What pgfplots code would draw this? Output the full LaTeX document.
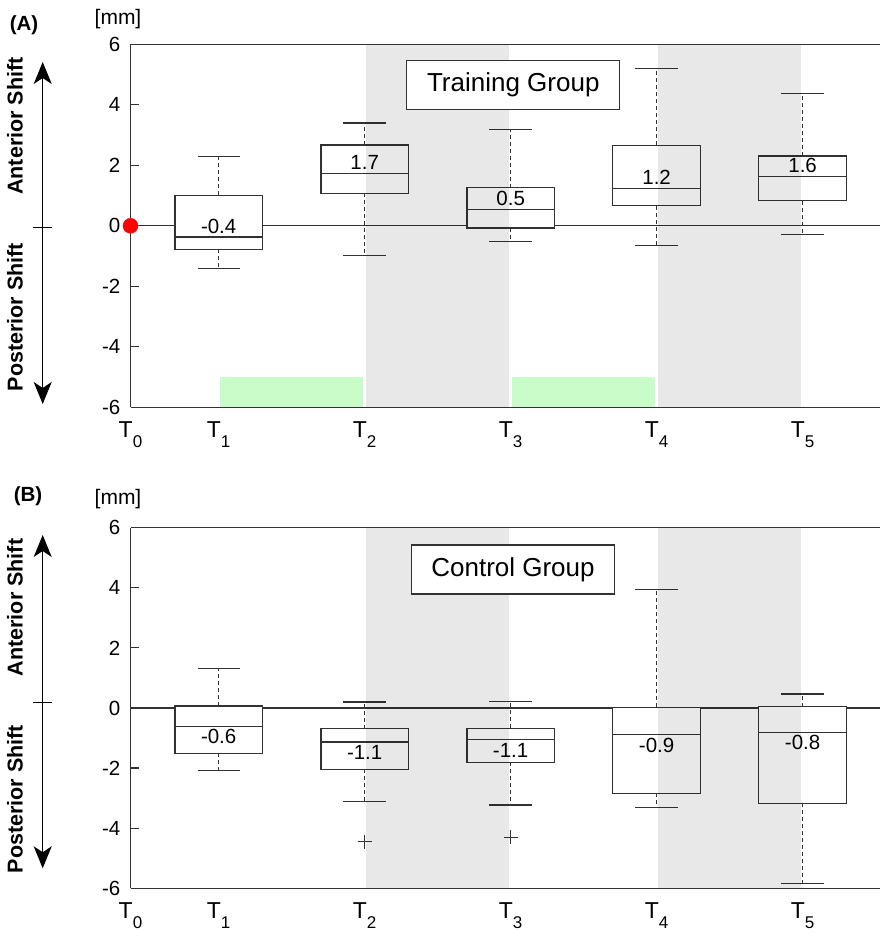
\documentclass[border=0pt]{standalone}
\usepackage{fontspec}
\setmainfont{Liberation Sans}
\usepackage{pgfplots}
\pgfplotsset{compat=1.18}
\usepgfplotslibrary{statistics}
\usetikzlibrary{arrows.meta}
\definecolor{lgreen}{RGB}{200,252,200}
\definecolor{ln}{RGB}{50,50,50}
\newcommand\Tl[1]{T\raisebox{-10.5pt}{\fontsize{17}{17}\selectfont #1}}
\tikzset{vl/.style={font=\fontsize{20.5}{24}\selectfont, inner sep=0pt}}
\pgfplotsset{
  boxplot/draw direction=y,
  boxplot/draw/lower whisker/.code={%
    \draw[dash pattern=on 4pt off 3pt]
      (boxplot box cs:\pgfplotsboxplotvalue{lower quartile},0.5) --
      (boxplot box cs:\pgfplotsboxplotvalue{lower whisker},0.5);
    \draw[solid]
      (boxplot whisker cs:\pgfplotsboxplotvalue{lower whisker},0) --
      (boxplot whisker cs:\pgfplotsboxplotvalue{lower whisker},1);
  },
  boxplot/draw/upper whisker/.code={%
    \draw[dash pattern=on 4pt off 3pt]
      (boxplot box cs:\pgfplotsboxplotvalue{upper quartile},0.5) --
      (boxplot box cs:\pgfplotsboxplotvalue{upper whisker},0.5);
    \draw[solid]
      (boxplot whisker cs:\pgfplotsboxplotvalue{upper whisker},0) --
      (boxplot whisker cs:\pgfplotsboxplotvalue{upper whisker},1);
  },
  boxplot/every box/.style={fill=white},
  bx/.style={draw=ln, line width=1.3pt, solid, mark=none},
  panel/.style={
    scale only axis, width=749.5pt,
    xmin=0.396, xmax=5.53, ymin=-6, ymax=6,
    axis x line*=bottom, axis y line*=left,
    axis line style={draw=ln, line width=1.3pt},
    clip=false,
    xtick={0.396,1,2,3,4,5},
    xticklabels={\Tl{0},\Tl{1},\Tl{2},\Tl{3},\Tl{4},\Tl{5}},
    xtick style={draw=none},
    ytick={-6,-4,-2,0,2,4,6},
    yticklabels={-6,-4,-2,0,2,4,6},
    ytick style={draw=ln, line width=1.2pt},
    tick align=inside, major tick length=8pt,
    yticklabel style={font=\fontsize{20.5}{24}\selectfont, inner sep=0pt, xshift=-10pt},
    xticklabel style={font=\fontsize{23}{27}\selectfont, inner sep=0pt, yshift=-14pt},
    boxplot/box extend=0.6, boxplot/whisker extend=0.29,
  },
}
\begin{document}
\begin{tikzpicture}
\useasboundingbox (0,0) rectangle (880pt,932pt);
% ---------------- Panel A ----------------
\begin{axis}[panel, height=363pt, at={(130.5pt,524.7pt)}, anchor=south west]
\addplot[ln, line width=1.2pt] coordinates {(0.396,0) (5.53,0)};
\addplot[fill=lgreen, draw=none] coordinates {(1.01,-6) (1.99,-6) (1.99,-5) (1.01,-5)} -- cycle;
\addplot[fill=lgreen, draw=none] coordinates {(3.01,-6) (3.99,-6) (3.99,-5) (3.01,-5)} -- cycle;
\addplot[bx, boxplot prepared={draw position=1, lower whisker=-1.42, lower quartile=-0.78, median=-0.37, upper quartile=1.01, upper whisker=2.30}] coordinates {};
\addplot[bx, boxplot prepared={draw position=2, lower whisker=-0.98, lower quartile=1.07, median=1.73, upper quartile=2.67, upper whisker=3.40}] coordinates {};
\addplot[bx, boxplot prepared={draw position=3, lower whisker=-0.51, lower quartile=-0.07, median=0.53, upper quartile=1.26, upper whisker=3.19}] coordinates {};
\addplot[bx, boxplot prepared={draw position=4, lower whisker=-0.66, lower quartile=0.66, median=1.23, upper quartile=2.66, upper whisker=5.19}] coordinates {};
\addplot[bx, boxplot prepared={draw position=5, lower whisker=-0.28, lower quartile=0.83, median=1.64, upper quartile=2.31, upper whisker=4.37}] coordinates {};
\addplot[fill=black, fill opacity=0.09, draw=none] coordinates {(2.01,-6) (2.99,-6) (2.99,6) (2.01,6)} -- cycle;
\addplot[fill=black, fill opacity=0.09, draw=none] coordinates {(4.01,-6) (4.99,-6) (4.99,6) (4.01,6)} -- cycle;
\draw[draw=ln, line width=1.3pt] (rel axis cs:0,1) -- (rel axis cs:1,1);
\node[vl, yshift=11pt] at (axis cs:1,-0.37) {-0.4};
\node[vl, yshift=11pt] at (axis cs:2,1.73) {1.7};
\node[vl, yshift=11pt] at (axis cs:3,0.53) {0.5};
\node[vl, yshift=11pt] at (axis cs:4,1.23) {1.2};
\node[vl, yshift=11pt] at (axis cs:5,1.64) {1.6};
\node[draw=ln, line width=1.3pt, fill=white, minimum width=213pt, minimum height=48.6pt, inner sep=0pt, font=\fontsize{26}{30}\selectfont] at (axis cs:3.018,4.65) {Training Group};
\addplot[only marks, mark=*, mark size=7.5pt, color=red] coordinates {(0.396,0)};
\end{axis}
% ---------------- Panel B ----------------
\begin{axis}[panel, height=360.6pt, at={(130.5pt,43.7pt)}, anchor=south west]
\addplot[ln, line width=1.2pt] coordinates {(0.396,0) (5.53,0)};
\addplot[bx, boxplot prepared={draw position=1, lower whisker=-2.07, lower quartile=-1.51, median=-0.61, upper quartile=0.07, upper whisker=1.32}] coordinates {};
\addplot[bx, mark=+, mark size=7pt, mark options={solid, line width=1.1pt}, boxplot prepared={draw position=2, lower whisker=-3.10, lower quartile=-2.04, median=-1.13, upper quartile=-0.69, upper whisker=0.20}] coordinates {(0,-4.45)};
\addplot[bx, mark=+, mark size=7pt, mark options={solid, line width=1.1pt}, boxplot prepared={draw position=3, lower whisker=-3.23, lower quartile=-1.81, median=-1.06, upper quartile=-0.68, upper whisker=0.22}] coordinates {(0,-4.30)};
\addplot[bx, boxplot prepared={draw position=4, lower whisker=-3.30, lower quartile=-2.84, median=-0.89, upper quartile=0.02, upper whisker=3.95}] coordinates {};
\addplot[bx, boxplot prepared={draw position=5, lower whisker=-5.83, lower quartile=-3.17, median=-0.81, upper quartile=0.04, upper whisker=0.47}] coordinates {};
\addplot[fill=black, fill opacity=0.09, draw=none] coordinates {(2.01,-6) (2.99,-6) (2.99,6) (2.01,6)} -- cycle;
\addplot[fill=black, fill opacity=0.09, draw=none] coordinates {(4.01,-6) (4.99,-6) (4.99,6) (4.01,6)} -- cycle;
\draw[draw=ln, line width=1.3pt] (rel axis cs:0,1) -- (rel axis cs:1,1);
\node[vl, yshift=-10.5pt] at (axis cs:1,-0.61) {-0.6};
\node[vl, yshift=-10.5pt] at (axis cs:2,-1.13) {-1.1};
\node[vl, yshift=-10.5pt] at (axis cs:3,-1.06) {-1.1};
\node[vl, yshift=-10.5pt] at (axis cs:4,-0.89) {-0.9};
\node[vl, yshift=-10.5pt] at (axis cs:5,-0.81) {-0.8};
\node[draw=ln, line width=1.3pt, fill=white, minimum width=203pt, minimum height=49pt, inner sep=0pt, font=\fontsize{26}{30}\selectfont] at (axis cs:3.016,4.61) {Control Group};
\end{axis}
% ---------------- annotations ----------------
\tikzset{sharr/.style={line width=1.2pt, arrows={Stealth[length=22pt,width=18pt,inset=6pt]-Stealth[length=22pt,width=18pt,inset=6pt]}}}
\draw[sharr] (42.7pt,528pt) -- (42.7pt,870pt);
\draw[line width=1.1pt] (33pt,704.3pt) -- (52pt,704.3pt);
\draw[sharr] (42.7pt,63.7pt) -- (42.7pt,397pt);
\draw[line width=1.1pt] (33pt,229.3pt) -- (52pt,229.3pt);
\node[rotate=90, font=\fontsize{21.5}{25}\selectfont\bfseries, inner sep=0pt] at (15pt,806pt) {Anterior Shift};
\node[rotate=90, font=\fontsize{21.5}{25}\selectfont\bfseries, inner sep=0pt] at (15pt,615pt) {Posterior Shift};
\node[rotate=90, font=\fontsize{21.5}{25}\selectfont\bfseries, inner sep=0pt] at (15pt,324.5pt) {Anterior Shift};
\node[rotate=90, font=\fontsize{21.5}{25}\selectfont\bfseries, inner sep=0pt] at (15pt,133pt) {Posterior Shift};
\node[font=\fontsize{20.5}{24}\selectfont\bfseries, inner sep=0pt] at (24pt,907pt) {(A)};
\node[font=\fontsize{20.5}{24}\selectfont\bfseries, inner sep=0pt] at (28pt,436pt) {(B)};
\node[font=\fontsize{21}{25}\selectfont, inner sep=0pt] at (118pt,913pt) {[mm]};
\node[font=\fontsize{21}{25}\selectfont, inner sep=0pt] at (118pt,433pt) {[mm]};
\end{tikzpicture}
\end{document}
